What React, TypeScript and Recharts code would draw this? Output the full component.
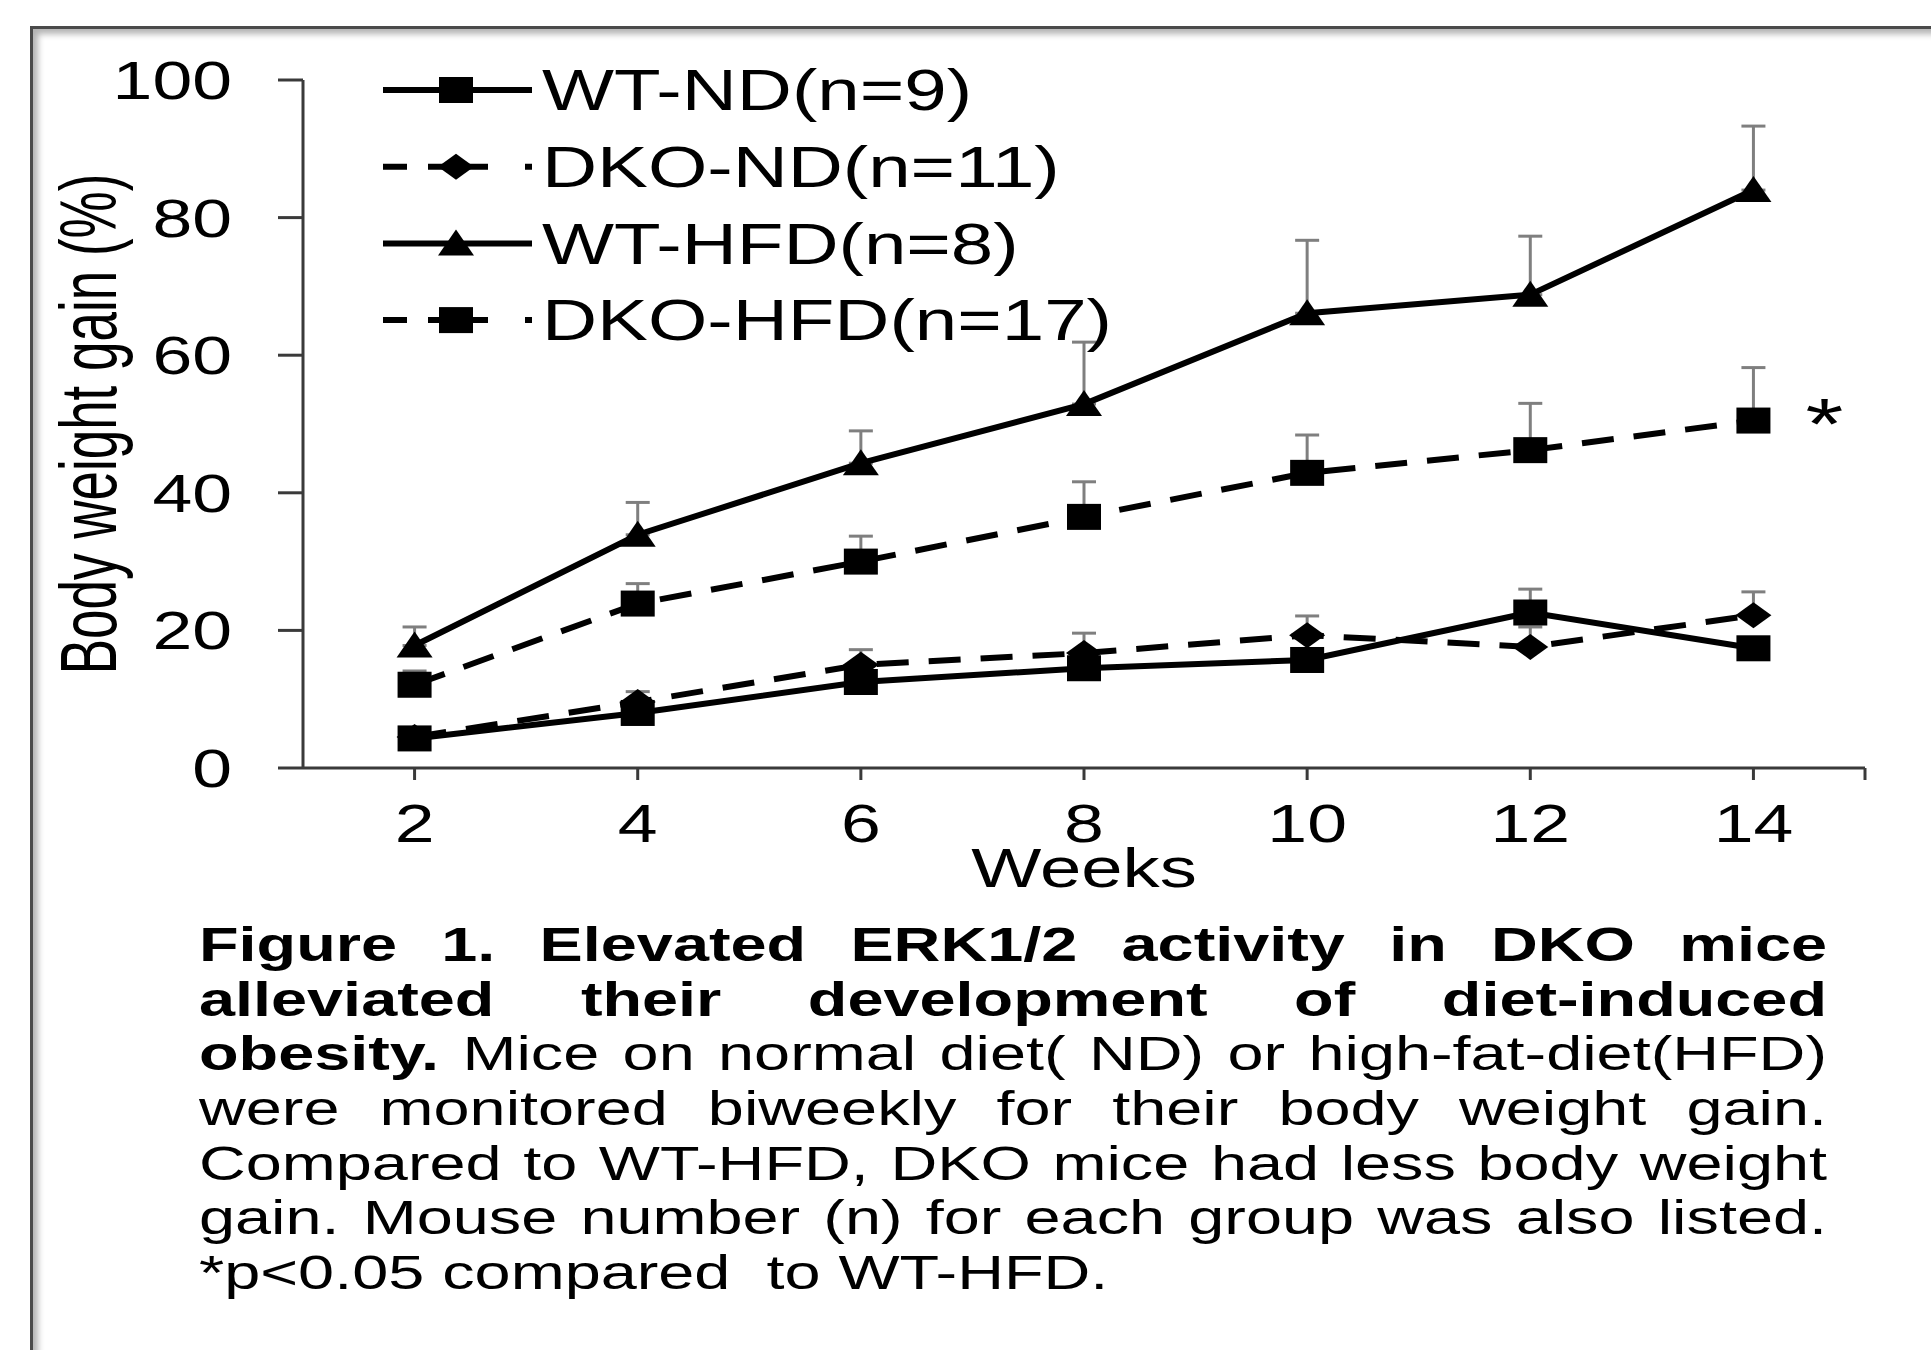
import React from 'react';
import { LineChart, Line, XAxis, YAxis, ErrorBar, Legend, Label, LabelList } from 'recharts';

// weeks on the x axis
const weeks = [2, 4, 6, 8, 10, 12, 14];
const xTicks = [2, 4, 6, 8, 10, 12, 14, 15];
const yTicks = [0, 20, 40, 60, 80, 100];

// body weight gain (%) per group, with the upper error (SEM)
const wtNd = [4.3, 8.0, 12.5, 14.5, 15.7, 22.6, 17.4];
const wtNdErr = [1.0, 1.5, 1.5, 1.5, 1.5, 3.4, 1.5];
const dkoNd = [4.5, 9.6, 15.0, 16.7, 19.3, 17.6, 22.2];
const dkoNdErr = [1.0, 1.5, 2.2, 2.9, 2.8, 2.9, 3.4];
const wtHfd = [17.8, 33.9, 44.3, 52.9, 66.1, 68.8, 84.0];
const wtHfdErr = [2.7, 4.7, 4.7, 9.0, 10.6, 8.5, 9.3];
const dkoHfd = [12.1, 23.9, 30.0, 36.5, 42.9, 46.2, 50.5];
const dkoHfdErr = [2.0, 2.9, 3.7, 5.1, 5.5, 6.8, 7.7];

const captionLines = [
  'Figure 1. Elevated ERK1/2 activity in DKO mice',
  'alleviated their development of diet-induced',
  'obesity.',
  'were monitored biweekly for their body weight gain.',
  'Compared to WT-HFD, DKO mice had less body weight',
  'gain. Mouse number (n) for each group was also listed.',
  '*p<0.05 compared  to WT-HFD.',
];
const captionLine3Rest = ' Mice on normal diet( ND) or high-fat-diet(HFD)';

const FONT = '"Liberation Sans", Arial, sans-serif';
const SX = 1.35; // the figure is stretched horizontally
const AXIS = '#3a3a3a';

type Series = { key: string; name: string; dashed: boolean; marker: 'square' | 'diamond' | 'triangle' };

const series: Series[] = [
  { key: 'wtNd', name: 'WT-ND(n=9)', dashed: false, marker: 'square' },
  { key: 'dkoNd', name: 'DKO-ND(n=11)', dashed: true, marker: 'diamond' },
  { key: 'wtHfd', name: 'WT-HFD(n=8)', dashed: false, marker: 'triangle' },
  { key: 'dkoHfd', name: 'DKO-HFD(n=17)', dashed: true, marker: 'square' },
];

const data = weeks.map((w, i) => ({
  week: w,
  wtNd: wtNd[i],
  wtNdErr: [0, wtNdErr[i]],
  dkoNd: dkoNd[i],
  dkoNdErr: [0, dkoNdErr[i]],
  wtHfd: wtHfd[i],
  wtHfdErr: [0, wtHfdErr[i]],
  dkoHfd: dkoHfd[i],
  dkoHfdErr: [0, dkoHfdErr[i]],
}));

const Marker = ({ cx, cy, kind }: { cx: number; cy: number; kind: string }) => {
  if (cx == null || cy == null) return null;
  if (kind === 'square') {
    return <rect x={cx - 17} y={cy - 13} width={34} height={26} fill="#000" />;
  }
  if (kind === 'diamond') {
    return <path d={`M${cx - 18},${cy} L${cx},${cy - 13} L${cx + 18},${cy} L${cx},${cy + 13} Z`} fill="#000" />;
  }
  return <path d={`M${cx - 18},${cy + 12} L${cx},${cy - 14} L${cx + 18},${cy + 12} Z`} fill="#000" />;
};

const YTick = (props: any) => {
  const { x, y, payload } = props;
  return (
    <g transform={`translate(${x},${y}) scale(${SX},1)`}>
      <text x={0} y={0} dy="0.36em" textAnchor="end" fontSize={53} fontFamily={FONT} fill="#000">
        {payload.value}
      </text>
    </g>
  );
};

const XTick = (props: any) => {
  const { x, y, payload } = props;
  if (payload.value === 15) return null;
  return (
    <g transform={`translate(${x},${y + 60}) scale(${SX},1)`}>
      <text x={0} y={0} textAnchor="middle" fontSize={53} fontFamily={FONT} fill="#000">
        {payload.value}
      </text>
    </g>
  );
};

const renderLegend = () => (
  <svg width={860} height={310}>
    {series.map((s, i) => {
      const y = 35 + i * 76.7;
      return (
        <g key={s.key}>
          <line
            x1={3}
            x2={152}
            y1={y}
            y2={y}
            stroke="#000"
            strokeWidth={6}
            strokeDasharray={s.dashed ? '24 21 60 37 7' : undefined}
          />
          <Marker cx={76} cy={y} kind={s.marker} />
          <g transform={`translate(162,${y}) scale(${SX},1)`}>
            <text x={0} y={0} dy="0.36em" fontSize={56.5} fontFamily={FONT} fill="#000">
              {s.name}
            </text>
          </g>
        </g>
      );
    })}
  </svg>
);

const Chart = () => (
  <LineChart width={1931} height={900} data={data} margin={{ top: 80, right: 66, bottom: 42, left: 203 }}>
    <XAxis
      dataKey="week"
      type="number"
      domain={[1, 15]}
      ticks={xTicks}
      interval={0}
      height={90}
      tickSize={12}
      tick={<XTick />}
      axisLine={{ stroke: AXIS, strokeWidth: 3 }}
      tickLine={{ stroke: AXIS, strokeWidth: 3 }}
    >
      <Label
        content={(p: any) => {
          const vb = p.viewBox;
          return (
            <g transform={`translate(${vb.x + vb.width / 2},${vb.y + 119}) scale(${SX},1)`}>
              <text x={0} y={0} textAnchor="middle" fontSize={55} fontFamily={FONT} fill="#000">
                Weeks
              </text>
            </g>
          );
        }}
      />
    </XAxis>
    <YAxis
      type="number"
      domain={[0, 100]}
      ticks={yTicks}
      interval={0}
      width={100}
      tickSize={25}
      tickMargin={46}
      tick={<YTick />}
      axisLine={{ stroke: AXIS, strokeWidth: 3 }}
      tickLine={{ stroke: AXIS, strokeWidth: 3 }}
    >
      <Label
        content={(p: any) => {
          const vb = p.viewBox;
          return (
            <g transform={`translate(116,${vb.y + vb.height / 2}) scale(1.5,1) rotate(-90)`}>
              <text x={0} y={0} textAnchor="middle" fontSize={53} fontFamily={FONT} fill="#000">
                Body weight gain (%)
              </text>
            </g>
          );
        }}
      />
    </YAxis>
    <Legend
      layout="vertical"
      align="center"
      verticalAlign="middle"
      content={renderLegend}
      wrapperStyle={{ position: 'absolute', left: 380, top: 55, right: 'auto', bottom: 'auto', width: 860, height: 310 }}
    />
    {series.map((s) => (
      <Line
        key={s.key}
        dataKey={s.key}
        name={s.name}
        type="linear"
        stroke="#000"
        strokeWidth={6}
        strokeDasharray={s.dashed ? '32 20' : undefined}
        dot={(p: any) => <Marker key={`${s.key}-${p.index}`} cx={p.cx} cy={p.cy} kind={s.marker} />}
        activeDot={false}
        isAnimationActive={false}
      >
        <ErrorBar
          dataKey={`${s.key}Err`}
          direction="y"
          width={12}
          strokeWidth={3}
          stroke="#7f7f7f"
          isAnimationActive={false}
        />
        {s.key === 'dkoHfd' && (
          <LabelList
            dataKey={s.key}
            content={(p: any) =>
              p.index === weeks.length - 1 ? (
                <g transform={`translate(${p.x + 71},${p.y + 28}) scale(${SX},1)`}>
                  <text x={0} y={0} textAnchor="middle" fontSize={72} fontFamily={FONT} fill="#000">
                    *
                  </text>
                </g>
              ) : null
            }
          />
        )}
      </Line>
    ))}
  </LineChart>
);

const lineStyle: React.CSSProperties = {
  height: 54.7,
  lineHeight: '54.7px',
  whiteSpace: 'nowrap',
  textAlign: 'justify',
  textAlignLast: 'justify',
};

export default function App() {
  return (
    <div
      style={{
        position: 'absolute',
        left: 0,
        top: 0,
        width: 1931,
        height: 1350,
        overflow: 'hidden',
        background: '#fff',
        fontFamily: FONT,
      }}
    >
      <div
        style={{
          position: 'absolute',
          left: 30,
          top: 26,
          width: 2100,
          height: 1500,
          borderLeft: '3px solid #4a4a4a',
          borderTop: '3px solid #4a4a4a',
          boxShadow: 'inset 5px 5px 6px rgba(0,0,0,0.3)',
        }}
      />
      <div style={{ position: 'absolute', left: 0, top: 0 }}>
        <Chart />
      </div>
      <div
        style={{
          position: 'absolute',
          left: 199,
          top: 918,
          width: 1628 / SX,
          transform: `scaleX(${SX})`,
          transformOrigin: 'left top',
          fontSize: 48,
          color: '#000',
        }}
      >
        <div style={{ ...lineStyle, fontWeight: 'bold' }}>{captionLines[0]}</div>
        <div style={{ ...lineStyle, fontWeight: 'bold' }}>{captionLines[1]}</div>
        <div style={lineStyle}>
          <b>{captionLines[2]}</b>
          {captionLine3Rest}
        </div>
        <div style={lineStyle}>{captionLines[3]}</div>
        <div style={lineStyle}>{captionLines[4]}</div>
        <div style={lineStyle}>{captionLines[5]}</div>
        <div style={{ ...lineStyle, textAlign: 'left', textAlignLast: 'left', whiteSpace: 'pre' }}>{captionLines[6]}</div>
      </div>
    </div>
  );
}
